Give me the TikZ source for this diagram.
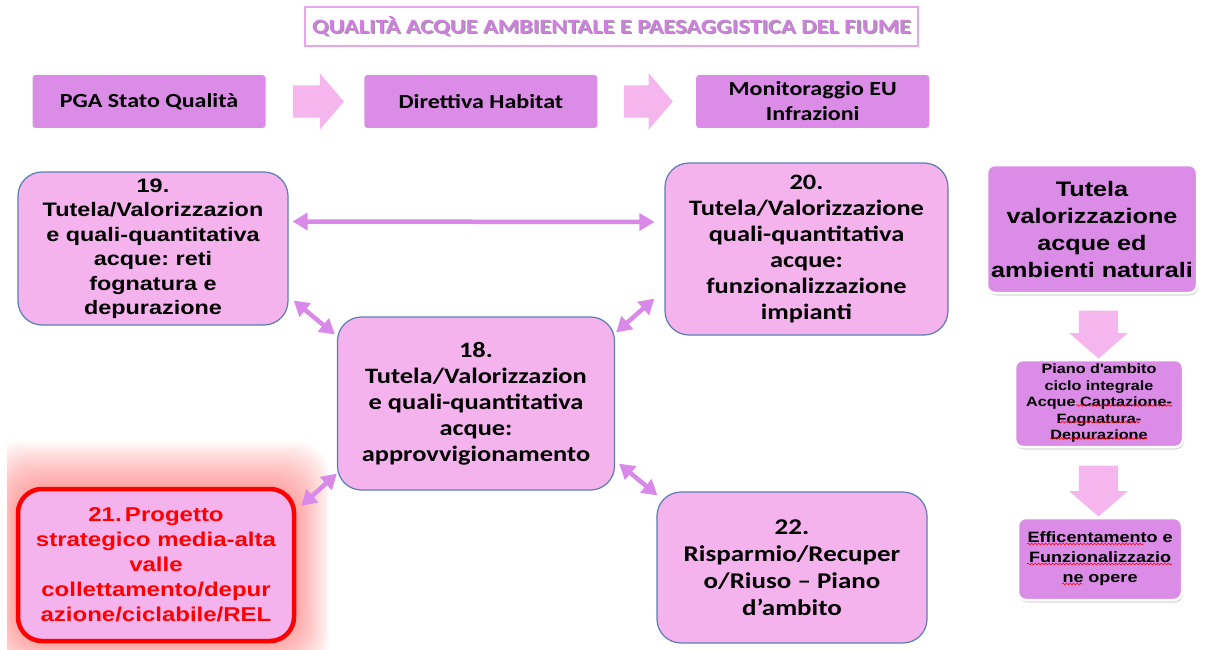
\documentclass[tikz,border=0pt]{standalone}
\usepackage{fontspec}
\setmainfont{Liberation Sans}[FakeStretch=1.2]
\newfontfamily\calibfont{Carlito}[FakeStretch=1.2]
\usetikzlibrary{positioning,shapes.arrows,arrows.meta,shadows,calc,backgrounds,decorations.pathmorphing}

\definecolor{topfill}{HTML}{DA8CE6}
\definecolor{pinkfill}{HTML}{F5B3EE}
\definecolor{blockfill}{HTML}{F4B6EC}
\definecolor{linkc}{HTML}{D98AE8}
\definecolor{edgeblue}{HTML}{5B7DB3}
\definecolor{titlec}{HTML}{D07FE0}
\definecolor{titleedge}{HTML}{E9A5F0}

\frenchspacing
\newcommand{\shadowtitle}[1]{\makebox[0pt][l]{\hspace{1.2pt}\raisebox{-1.2pt}{\color{black!40}#1}}#1}

\begin{document}
\begin{tikzpicture}[x=1pt,y=-1pt,
    topbox/.style={fill=topfill, rounded corners=3pt, inner sep=0pt, align=center,
      font=\calibfont\bfseries\fontsize{20}{25}\selectfont, minimum width=233pt, minimum height=53pt},
    pinkbox/.style={fill=pinkfill, draw=edgeblue, line width=1.2pt, rounded corners=24pt,
      align=center, inner sep=0pt},
    arialtxt/.style={font=\bfseries\fontsize{19.5}{24.5}\selectfont},
    calibtxt/.style={font=\calibfont\bfseries\fontsize{22}{26}\selectfont},
    sidebox/.style={fill=topfill, draw=white, line width=2.5pt, rounded corners=8pt,
      align=center, inner sep=0pt,
      drop shadow={shadow xshift=1pt, shadow yshift=-2.5pt, fill=black!30}},
    fatarrow/.style={single arrow, fill=blockfill, inner xsep=0pt, inner ysep=16pt,
      single arrow head extend=12pt, single arrow tip angle=99},
    downarrow/.style={fatarrow, rotate=-90, inner ysep=19.5pt, single arrow head extend=9.5pt,
      single arrow tip angle=98},
    biarrow/.style={draw=linkc, line width=4.5pt,
      {Triangle[length=15pt,width=17pt]}-{Triangle[length=15pt,width=17pt]}},
    spellwave/.style={draw=red, line width=0.6pt, decorate,
      decoration={snake, amplitude=0.9pt, segment length=3.5pt}},
  ]
  \useasboundingbox (0,0) rectangle (1212,650);

  % title
  \node[draw=titleedge, line width=1.2pt, minimum width=613pt, minimum height=39pt,
    text=titlec, font=\calibfont\bfseries\fontsize{20.3}{22}\selectfont] (title) at (611.5,26.5)
    {\shadowtitle{QUALITÀ ACQUE AMBIENTALE E PAESAGGISTICA DEL FIUME}};

  % top row
  \node[topbox] (pga) at (149,101.5) {PGA Stato Qualità};
  \node[fatarrow, minimum height=51pt, right=27pt of pga] (a1) {};
  \node[topbox, right=20pt of a1] (dir) {Direttiva Habitat};
  \node[fatarrow, minimum height=49pt, right=26pt of dir] (a2) {};
  \node[topbox, right=23pt of a2] (mon) {Monitoraggio EU\\Infrazioni};

  % main boxes
  \node[pinkbox, arialtxt, minimum width=270pt, minimum height=153pt] (n19) at (153,248.5)
    {19.\\Tutela/Valorizzazion\\e quali-quantitativa\\acque: reti\\fognatura e\\depurazione};
  \node[pinkbox, calibtxt, minimum width=283pt, minimum height=172pt] (n20) at (806.5,249)
    {20.\\Tutela/Valorizzazione\\quali-quantitativa\\acque:\\funzionalizzazione\\impianti};
  \node[pinkbox, calibtxt, minimum width=277pt, minimum height=173pt] (n18) at (476,403.5)
    {18.\\Tutela/Valorizzazion\\e quali-quantitativa\\acque:\\approvvigionamento};
  \node[pinkbox, arialtxt, draw=red, line width=4.5pt, text=red, font=\bfseries\fontsize{20}{25}\selectfont,
    minimum width=276pt, minimum height=152pt] (n21) at (156,565)
    {21.\,Progetto\\strategico media-alta\\valle\\collettamento/depur\\azione/ciclabile/REL};
  \node[pinkbox, calibtxt, font=\calibfont\bfseries\fontsize{22.5}{27}\selectfont,
    minimum width=270pt, minimum height=151pt] (n22) at (792,567.5)
    {22.\\Risparmio/Recuper\\o/Riuso – Piano\\d’ambito};

  % red glow
  \begin{pgfonlayer}{background}
    \begin{scope}
      \clip (7,0) rectangle (1212,650);
      \foreach \g in {1,...,15} {
        \fill[red, opacity=0.028, rounded corners=34pt]
          ($(n21.north west)+(-2*\g,-3*\g)$) rectangle ($(n21.south east)+(2.2*\g,2*\g)$);
      }
    \end{scope}
  \end{pgfonlayer}

  % links
  \draw[biarrow] ($(n19.east)+(4,-27)$) -- ($(n20.west)+(-10,-27)$);
  \draw[biarrow] ($(n19.south east)+(5,-25)$) -- ($(n18.north west)+(-2,18)$);
  \draw[biarrow] ($(n20.south west)+(-10,-37)$) -- ($(n18.north east)+(1,16)$);
  \draw[biarrow] ($(n18.south west)+(0,-17)$) -- ($(n21.north east)+(5,19)$);
  \draw[biarrow] ($(n18.south east)+(4,-27)$) -- ($(n22.north west)+(1,4)$);

  % right column
  \node[sidebox, font=\bfseries\fontsize{21}{27}\selectfont, minimum width=210pt, minimum height=128pt]
    (tutela) at (1092,229) {Tutela\\valorizzazione\\acque ed\\ambienti naturali};
  \node[downarrow, minimum height=48pt] (d1) at (1098.5,326) {};
  \node[sidebox, font=\bfseries\fontsize{13.5}{16.5}\selectfont, minimum width=168pt, minimum height=87pt]
    (piano) at (1099,403.5)
    {Piano d\textquotesingle ambito\\ciclo integrale\\Acque Captazione-\\Fognatura-\\Depurazione};
  \node[downarrow, minimum height=51pt] (d2) at (1098.5,482.5) {};
  \node[sidebox, font=\bfseries\fontsize{15}{20}\selectfont, minimum width=164pt, minimum height=82pt]
    (effic) at (1100,559)
    {Efficentamento e\\Funzionalizzazio\\ne opere};

  % spell-check marks
  \draw[spellwave] ($(piano.center)+(-23,2)$) -- ++(96,0);
  \draw[spellwave] ($(piano.center)+(-41,18.5)$) -- ++(82,0);
  \draw[spellwave] ($(piano.center)+(-49,35)$) -- ++(97,0);
  \draw[spellwave] ($(effic.center)+(-73,-15)$) -- ++(116,0);
  \draw[spellwave] ($(effic.center)+(-73,5)$) -- ++(145,0);
  \draw[spellwave] ($(effic.center)+(-38,25)$) -- ++(20,0);
\end{tikzpicture}
\end{document}
